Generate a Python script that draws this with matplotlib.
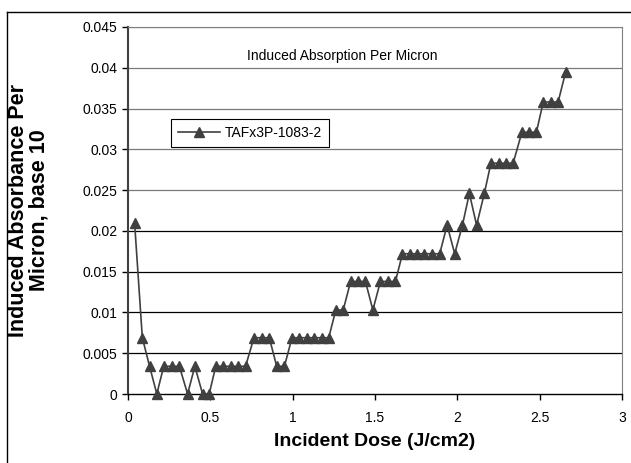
import matplotlib
matplotlib.use("Agg")
import matplotlib.pyplot as plt
from matplotlib.lines import Line2D

plt.rcParams['font.family'] = ['Liberation Sans', 'DejaVu Sans']

# incident dose (J/cm2) and induced absorbance per micron
dose = [0.040, 0.087, 0.131, 0.175, 0.217, 0.268, 0.312, 0.362, 0.406, 0.453,
        0.493, 0.533, 0.579, 0.624, 0.670, 0.714, 0.765, 0.812, 0.858, 0.903,
        0.950, 0.996, 1.040, 1.085, 1.131, 1.176, 1.219, 1.262, 1.307, 1.352,
        1.396, 1.442, 1.487, 1.533, 1.578, 1.624, 1.667, 1.710, 1.756, 1.800,
        1.846, 1.893, 1.938, 1.984, 2.031, 2.073, 2.117, 2.164, 2.204, 2.250,
        2.295, 2.339, 2.392, 2.436, 2.480, 2.522, 2.568, 2.612, 2.658]
absorb = [0.0210, 0.0069, 0.0034, 0.0000, 0.0034, 0.0034, 0.0034, 0.0000, 0.0034, 0.0000,
          0.0000, 0.0034, 0.0034, 0.0034, 0.0034, 0.0034, 0.0069, 0.0069, 0.0069, 0.0034,
          0.0034, 0.0069, 0.0069, 0.0069, 0.0069, 0.0069, 0.0069, 0.0103, 0.0103, 0.0138,
          0.0138, 0.0138, 0.0103, 0.0138, 0.0138, 0.0138, 0.0172, 0.0172, 0.0172, 0.0172,
          0.0172, 0.0172, 0.0207, 0.0172, 0.0207, 0.0246, 0.0207, 0.0246, 0.0283, 0.0283,
          0.0283, 0.0283, 0.0321, 0.0321, 0.0321, 0.0358, 0.0358, 0.0358, 0.0395]

series_name = 'TAFx3P-1083-2'
x_ticks = [0, 0.5, 1, 1.5, 2, 2.5, 3]
x_labels = ['0', '0.5', '1', '1.5', '2', '2.5', '3']
y_ticks = [0, 0.005, 0.01, 0.015, 0.02, 0.025, 0.03, 0.035, 0.04, 0.045]
y_labels = ['0', '0.005', '0.01', '0.015', '0.02', '0.025', '0.03', '0.035', '0.04', '0.045']

W, H = 631, 463
fig = plt.figure(figsize=(W / 100, H / 100), dpi=100)

# plot area in pixels: left 128, right 622, top 27, bottom 394
ax = fig.add_axes([128 / W, (H - 394) / H, (622 - 128) / W, (394 - 27) / H])

# chart area border (only left and top are inside the picture)
fig.add_artist(Line2D([7 / W, 7 / W], [0, 1 - 12 / H], transform=fig.transFigure,
                      color='black', lw=1.0))
fig.add_artist(Line2D([7 / W, 1], [1 - 12 / H, 1 - 12 / H], transform=fig.transFigure,
                      color='black', lw=1.0))

line_color = '#404040'
ax.plot(dose, absorb, color=line_color, lw=1.2, marker='^', markersize=7.5,
        markerfacecolor=line_color, markeredgecolor=line_color, label=series_name,
        clip_on=False, zorder=3)

ax.set_xlim(0, 3)
ax.set_ylim(0, 0.045)
ax.set_xticks(x_ticks)
ax.set_xticklabels(x_labels)
ax.set_yticks(y_ticks)
ax.set_yticklabels(y_labels)
ax.tick_params(axis='both', labelsize=10, direction='out', length=4, width=1, color='black')
ax.tick_params(axis='x', pad=8)

# gridlines: upper ones come out grey in the scan, lower ones black
for y in y_ticks[1:]:
    ax.axhline(y, color='#7a7a7a' if y >= 0.025 else 'black', lw=0.9, zorder=1)

ax.spines['left'].set_color('#404040')
ax.spines['left'].set_linewidth(1.5)
ax.spines['bottom'].set_color('black')
ax.spines['bottom'].set_linewidth(1.0)
ax.spines['top'].set_color('#808080')
ax.spines['right'].set_color('#808080')

ax.set_xlabel('Incident Dose (J/cm2)', fontsize=14, fontweight='bold', labelpad=6)
ax.set_ylabel('Induced Absorbance Per\nMicron, base 10', fontsize=15.5, fontweight='bold',
              linespacing=1.0)
# label block's right edge sits about 50 px from the figure's left side
ax.yaxis.set_label_coords(-78 / 494, 0.5)

ax.text(1.30, 0.0415, 'Induced Absorption Per Micron', fontsize=10, ha='center', va='center')

leg = ax.legend(loc='upper left', bbox_to_anchor=(36 / 494, 1 - 85 / 367), fontsize=10,
                frameon=True, fancybox=False, edgecolor='black', framealpha=1,
                handlelength=3, borderpad=0.5, handletextpad=0.4)
leg.get_frame().set_linewidth(0.8)

fig.savefig('out.png', dpi=100)
